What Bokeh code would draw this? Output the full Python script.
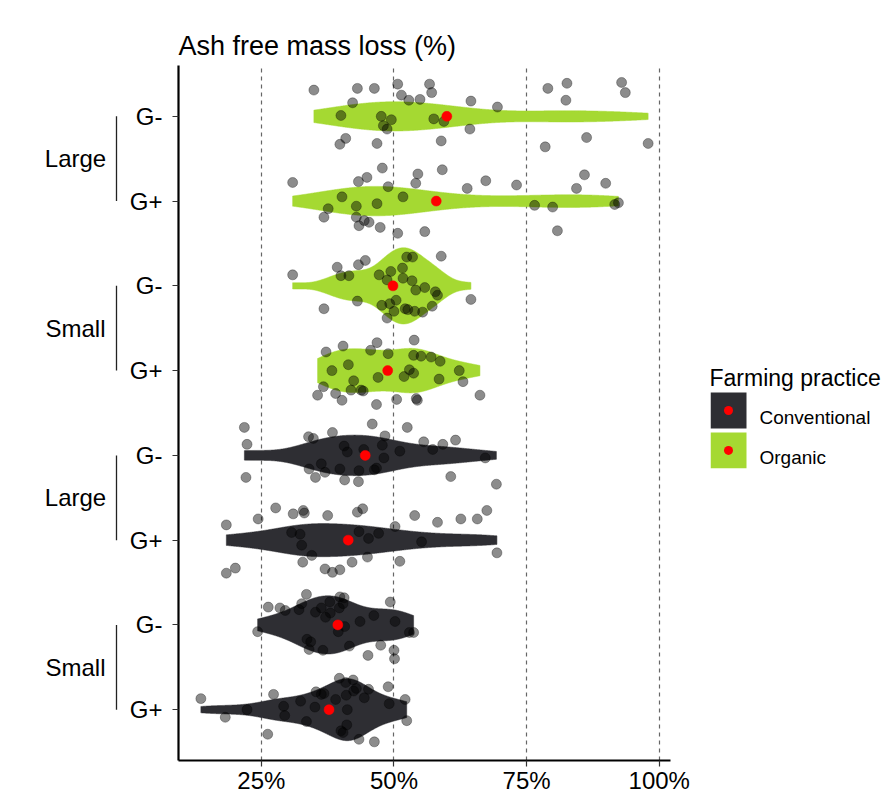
import numpy as np
from bokeh.plotting import figure
from bokeh.models import Range1d, FixedTicker, ColumnDataSource
from bokeh.layouts import row
from bokeh.embed import file_html
from bokeh.resources import INLINE
from bokeh.core.properties import value

FONT = "Liberation Sans"

# ---------------- data (values in %, vertical jitter in row units) ----------------
conv_small_gplus = [13.6, 18.2, 22.3, 26.2, 27.3, 29.2, 29.4, 32.4, 33.5, 35.1, 35.3, 36.3, 39.0, 39.7,
                    40.9, 42.3, 42.4, 42.9, 41.0, 45.2, 44.4, 48.9, 49.1, 52.1, 41.2, 41.1, 40.0, 40.4,
                    43.4, 46.3, 52.4, 36.8]
conv_small_gplus_jitter = [0.13, -0.09, 0.0, -0.29, 0.18, 0.04, -0.07, 0.10, -0.14, 0.03, 0.21, 0.18, 0.12,
                           0.37, 0.32, 0.35, 0.22, 0.25, 0.17, 0.24, 0.14, 0.27, 0.07, 0.12, 0.0, -0.18,
                           -0.25, -0.27, -0.35, -0.38, -0.13, 0.19]

conv_small_gminus = [33.5, 26.3, 28.5, 29.5, 32.1, 32.6, 35.2, 36.3, 37.9, 39.8, 40.6, 40.4, 39.7, 38.0,
                     37.1, 49.3, 46.2, 43.6, 50.2, 40.7, 39.5, 24.3, 52.9, 53.7, 33.6, 34.3, 34.0, 36.6,
                     41.6, 47.5, 45.1, 50.0, 50.1]
conv_small_gminus_jitter = [0.36, 0.21, 0.20, 0.17, 0.18, 0.25, 0.15, 0.20, 0.27, 0.33, 0.32, 0.25, 0.20,
                            0.14, 0.09, 0.27, 0.11, 0.04, 0.04, -0.02, -0.08, -0.08, -0.09, -0.09, -0.17,
                            -0.20, -0.29, -0.30, -0.25, -0.24, -0.36, -0.30, -0.40]

conv_large_gplus = [18.4, 24.4, 27.7, 31.0, 32.9, 33.1, 37.5, 43.1, 44.1, 50.2, 53.9, 58.2, 62.6, 65.7,
                    67.5, 30.7, 32.3, 32.6, 34.5, 43.4, 45.2, 47.1, 55.2, 69.4, 18.4, 20.1, 32.8, 37.0,
                    38.4, 39.8, 42.1, 45.0, 51.1]
conv_large_gplus_jitter = [0.18, 0.25, 0.38, 0.31, 0.35, 0.32, 0.29, 0.33, 0.37, 0.16, 0.29, 0.21, 0.25,
                           0.25, 0.35, 0.09, 0.07, -0.06, -0.18, 0.10, 0.02, 0.08, -0.02, -0.15, -0.39,
                           -0.33, -0.26, -0.34, -0.38, -0.35, -0.26, -0.20, -0.25]

conv_large_gminus = [21.8, 22.3, 22.1, 33.9, 34.8, 38.4, 45.9, 48.3, 52.5, 55.6, 57.3, 59.2, 61.6, 40.6,
                     41.2, 44.3, 47.8, 51.1, 48.1, 36.3, 34.0, 37.0, 35.2, 39.8, 43.4, 46.3, 46.7, 40.7,
                     43.3, 60.7, 67.2, 69.3]
conv_large_gminus_jitter = [0.33, 0.13, -0.26, 0.22, 0.20, 0.27, 0.37, 0.23, 0.33, 0.16, 0.07, 0.13, 0.18,
                            0.11, 0.04, 0.07, 0.12, 0.05, -0.03, -0.10, -0.16, -0.20, -0.26, -0.16, -0.18,
                            -0.17, -0.15, -0.29, -0.31, -0.25, -0.03, -0.34]

org_small_gplus = [37.2, 40.4, 45.6, 46.8, 48.9, 53.8, 53.7, 55.1, 57.0, 58.7, 38.3, 41.4, 47.0, 52.9,
                   53.7, 51.9, 58.5, 62.3, 63.0, 42.4, 36.7, 41.9, 43.8, 44.2, 35.6, 39.0, 40.2, 46.7,
                   50.5, 54.2, 54.4, 66.2]
org_small_gplus_jitter = [0.22, 0.29, 0.24, 0.33, 0.20, 0.36, 0.18, 0.17, 0.16, 0.11, 0.0, 0.07, -0.08,
                          0.01, -0.03, -0.07, -0.10, 0.0, -0.13, -0.12, -0.19, -0.23, -0.23, -0.24, -0.29,
                          -0.27, -0.35, -0.40, -0.34, -0.33, -0.35, -0.29]

org_small_gminus = [30.9, 39.3, 40.0, 41.5, 43.3, 44.6, 47.2, 49.4, 48.7, 51.6, 52.4, 53.5, 58.9, 51.7,
                    53.4, 54.1, 55.8, 57.8, 58.2, 43.1, 36.8, 47.7, 49.2, 50.4, 50.0, 48.7, 52.1, 52.6,
                    53.9, 55.4, 57.2, 64.5]
org_small_gminus_jitter = [0.13, 0.22, 0.12, 0.12, 0.25, 0.30, 0.13, 0.17, 0.07, 0.21, 0.34, 0.34, 0.35,
                           0.09, 0.06, -0.05, -0.02, -0.07, -0.11, -0.18, -0.27, -0.23, -0.21, -0.17,
                           -0.30, -0.38, -0.27, -0.28, -0.30, -0.31, -0.24, -0.16]

org_large_gplus = [30.9, 43.3, 44.9, 47.8, 54.5, 54.1, 59.1, 48.9, 63.8, 67.3, 73.1, 40.2, 37.6, 36.8,
                   42.9, 46.8, 51.7, 42.9, 44.4, 45.3, 43.4, 47.4, 50.7, 55.8, 76.5, 79.9, 85.9, 84.4,
                   89.9, 91.6, 92.3, 80.8]
org_large_gplus_jitter = [0.22, 0.23, 0.28, 0.39, 0.32, 0.21, 0.37, 0.17, 0.15, 0.24, 0.19, 0.05, -0.09,
                          -0.19, -0.06, -0.03, 0.05, -0.19, -0.23, -0.25, -0.29, -0.31, -0.38, -0.36,
                          -0.05, -0.07, 0.31, 0.15, 0.21, -0.04, -0.02, -0.35]

org_large_gminus = [34.9, 43.1, 46.3, 50.7, 56.7, 57.1, 51.4, 52.8, 54.9, 42.2, 64.5, 69.5, 40.0, 47.6,
                    49.5, 48.0, 48.7, 57.5, 59.4, 64.3, 40.9, 39.8, 46.8, 58.9, 79.0, 82.6, 82.4, 92.9,
                    93.6, 86.3, 78.5, 97.9]
org_large_gminus_jitter = [0.31, 0.33, 0.33, 0.38, 0.38, 0.28, 0.25, 0.19, 0.20, 0.16, 0.18, 0.11, 0.01,
                           0.0, -0.04, -0.11, -0.15, -0.03, -0.06, -0.15, -0.26, -0.33, -0.32, -0.29,
                           0.33, 0.39, 0.19, 0.40, 0.28, -0.25, -0.36, -0.32]

# rows from bottom to top
practice = ["Conventional"] * 4 + ["Organic"] * 4
size_class = ["Small", "Small", "Large", "Large"] * 2
g_factor = ["G+", "G-"] * 4
values = [conv_small_gplus, conv_small_gminus, conv_large_gplus, conv_large_gminus,
          org_small_gplus, org_small_gminus, org_large_gplus, org_large_gminus]
jitters = [conv_small_gplus_jitter, conv_small_gminus_jitter, conv_large_gplus_jitter,
           conv_large_gminus_jitter, org_small_gplus_jitter, org_small_gminus_jitter,
           org_large_gplus_jitter, org_large_gminus_jitter]

x_ticks = [25, 50, 75, 100]
x_tick_labels = ["25%", "50%", "75%", "100%"]
title_text = "Ash free mass loss (%)"
legend_title = "Farming practice"
legend_practices = ["Conventional", "Organic"]
colors = {"Conventional": "#2e2e33", "Organic": "#a5d932"}

# ---------------- statistics (violin densities, means) ----------------
def nrd0(x):
    hi = np.std(x, ddof=1)
    q75, q25 = np.percentile(x, [75, 25])
    lo = min(hi, (q75 - q25) / 1.34)
    return 0.9 * lo * len(x) ** (-0.2)

dens = []
for vals in values:
    x = np.asarray(vals, float)
    bw = nrd0(x)
    grid = np.linspace(x.min(), x.max(), 512)
    d = np.exp(-0.5 * ((grid[:, None] - x[None, :]) / bw) ** 2).sum(1) / (len(x) * bw * np.sqrt(2 * np.pi))
    dens.append((grid, d))
dmax = max(d.max() for _, d in dens)
HALF = 0.45

vxs, vys, vcol = [], [], []
for i, (g, d) in enumerate(dens):
    yc = i + 1
    w = d / dmax * HALF
    vxs.append(list(np.concatenate([g, g[::-1]])))
    vys.append(list(np.concatenate([yc + w, (yc - w)[::-1]])))
    vcol.append(colors[practice[i]])

px, py = [], []
for i, (vals, jit) in enumerate(zip(values, jitters)):
    px += list(vals)
    py += [i + 1 + j for j in jit]

means = [float(np.mean(v)) for v in values]
rows = [i + 1 for i in range(len(values))]

allv = np.concatenate([np.asarray(v, float) for v in values])
pad = 0.05 * (allv.max() - allv.min())
x_range = Range1d(allv.min() - pad, allv.max() + pad)
y_range = Range1d(0.4, len(values) + 0.6)

TOP, BOTTOM, H = 65, 34, 796
LEFT_W, MAIN_LB, FRAME_W, MAIN_RB = 120, 58, 492, 40
LEG_W = 890 - LEFT_W - MAIN_LB - FRAME_W - MAIN_RB

# ---------------- main plot ----------------
p = figure(width=MAIN_LB + FRAME_W + MAIN_RB, height=H, x_range=x_range, y_range=y_range,
           output_backend="svg", toolbar_location=None,
           min_border_left=MAIN_LB, min_border_right=MAIN_RB, min_border_top=TOP, min_border_bottom=BOTTOM)
p.outline_line_color = None
p.background_fill_color = "white"
p.border_fill_color = "white"

p.title.text = title_text
p.title.text_font = FONT
p.title.text_font_size = "27px"
p.title.text_font_style = "normal"
p.title.text_color = "black"
p.title.align = "left"
p.title.offset = 0
p.title.standoff = 10

p.patches(xs="xs", ys="ys", fill_color="c", line_color="c", line_width=0.5,
          source=ColumnDataSource(dict(xs=vxs, ys=vys, c=vcol)))
p.scatter(px, py, size=10, fill_color="black", fill_alpha=0.45,
          line_color="black", line_alpha=0.3, line_width=1)
p.scatter(means, rows, size=10, fill_color="#ff0000", line_color="#ff0000", line_width=0.5)

p.xaxis.ticker = FixedTicker(ticks=x_ticks)
p.xaxis.major_label_overrides = {t: l for t, l in zip(x_ticks, x_tick_labels)}
p.yaxis.ticker = FixedTicker(ticks=rows)
p.yaxis.major_label_overrides = {r: g for r, g in zip(rows, g_factor)}
for ax in (p.xaxis[0], p.yaxis[0]):
    ax.axis_line_width = 2.2
    ax.axis_line_color = "black"
    ax.major_tick_line_color = "#333333"
    ax.major_tick_line_width = 1.2
    ax.major_tick_out = 6
    ax.major_tick_in = 0
    ax.minor_tick_line_color = None
    ax.major_label_text_font = FONT
    ax.major_label_text_font_size = "24px"
    ax.major_label_text_color = "black"
p.xaxis.major_label_standoff = 0
p.yaxis.major_label_standoff = 10

p.ygrid.visible = False
p.xgrid.grid_line_color = "#666666"
p.xgrid.grid_line_dash = "4 4"
p.xgrid.grid_line_width = 1.2

# ---------------- left strip with group labels ----------------
lf = figure(width=LEFT_W, height=H, x_range=Range1d(0, LEFT_W), y_range=y_range,
            output_backend="svg", toolbar_location=None,
            x_axis_location=None, y_axis_location=None,
            min_border_left=0, min_border_right=0, min_border_top=TOP, min_border_bottom=BOTTOM)
lf.outline_line_color = None
lf.grid.visible = False
grp_y = [(rows[i] + rows[i + 1]) / 2 for i in range(0, len(rows), 2)]
grp_lab = [size_class[i] for i in range(0, len(rows), 2)]
grp_y0 = [rows[i] for i in range(0, len(rows), 2)]
grp_y1 = [rows[i + 1] for i in range(0, len(rows), 2)]
lf.text(x=[75] * len(grp_y), y=grp_y, text=grp_lab, text_font=value(FONT), text_font_size="24px",
        text_align="center", text_baseline="middle", text_color="black")
lf.segment(x0=[116] * len(grp_y), y0=grp_y0, x1=[116] * len(grp_y), y1=grp_y1,
           line_color="#222222", line_width=1.3)

# ---------------- legend strip (frame aligned with main frame; y in page pixels) ----------------
lg = figure(width=LEG_W, height=H, x_range=Range1d(0, LEG_W), y_range=Range1d(H - BOTTOM, TOP),
            output_backend="svg", toolbar_location=None,
            x_axis_location=None, y_axis_location=None,
            min_border_left=0, min_border_right=0, min_border_top=TOP, min_border_bottom=BOTTOM)
lg.outline_line_color = None
lg.grid.visible = False
key_y = [411 + 40 * i for i in range(len(legend_practices))]
lg.text(x=[-1], y=[378], text=[legend_title], text_font=value(FONT), text_font_size="23px",
        text_align="left", text_baseline="alphabetic", text_color="black")
lg.rect(x=[18] * len(key_y), y=key_y, width=36, height=36,
        fill_color=[colors[k] for k in legend_practices], line_color=None)
lg.scatter(x=[18] * len(key_y), y=key_y, size=9, fill_color="#ff0000", line_color=None)
lg.text(x=[49] * len(key_y), y=[k + 7 for k in key_y], text=legend_practices, text_font=value(FONT),
        text_font_size="19px", text_align="left", text_baseline="alphabetic", text_color="black")

layout = row(lf, p, lg)
open("out.html", "w").write(file_html(layout, INLINE))
